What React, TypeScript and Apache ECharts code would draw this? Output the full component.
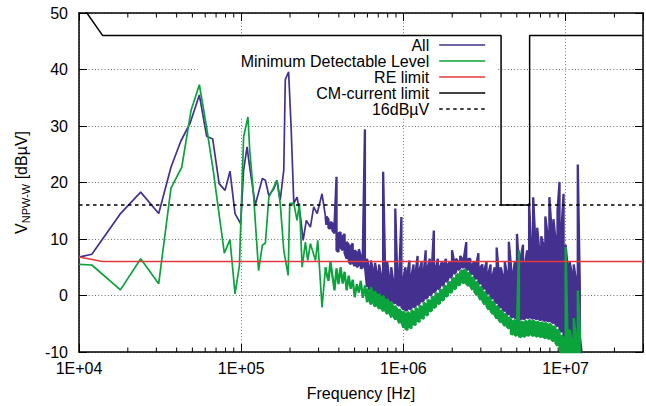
import React, { useEffect, useRef } from "react";
import * as echarts from "echarts";

const FONT = '"Liberation Sans", Arial, Helvetica, sans-serif';

// Colours of the traces
const C_ALL = "#43308f";
const C_MDL = "#0aa33c";
const C_RE = "#e3383f";
const C_CM = "#000000";

// Low-frequency part of the "All" trace (Hz, dBµV)
const ALL_LOW_FREQ = [
  1.0e4, 1.2e4, 1.79e4, 2.4e4, 3.1e4, 3.69e4, 4.24e4, 4.84e4, 5.52e4, 6.12e4,
  6.67e4, 7.31e4, 7.95e4, 8.53e4, 9.16e4, 9.93e4, 1.035e5, 1.087e5, 1.12e5, 1.22e5,
  1.35e5, 1.41e5, 1.48e5, 1.59e5, 1.66e5, 1.74e5, 1.83e5, 1.87e5, 1.96e5, 2.03e5,
  2.11e5, 2.21e5, 2.32e5, 2.41e5, 2.52e5, 2.67e5, 2.8e5, 2.94e5, 3.15e5, 3.31e5,
];
const ALL_LOW_DB = [
  6.8, 7.3, 14.4, 18.3, 14.5, 22.7, 27.3, 30.5, 35.5, 28.2,
  27.7, 19.8, 18.6, 22.0, 14.5, 12.7, 22.2, 26.3, 23.4, 16.0,
  20.7, 20.4, 17.7, 18.9, 20.4, 16.9, 22.2, 38.2, 39.6, 29.9,
  16.3, 17.4, 13.9, 9.75, 13.3, 12.1, 15.7, 14.5, 18.0, 13.9,
];

// Low-frequency part of the minimum detectable level (Hz, dBµV)
const MDL_LOW_FREQ = [
  1.0e4, 1.2e4, 1.8e4, 2.4e4, 3.1e4, 3.69e4, 4.3e4, 4.91e4, 5.52e4, 6.1e4,
  6.73e4, 7.87e4, 8.53e4, 9.16e4, 9.75e4, 1.035e5, 1.1e5, 1.129e5, 1.19e5, 1.28e5,
  1.35e5, 1.41e5, 1.48e5, 1.573e5, 1.66e5, 1.74e5, 1.83e5, 1.947e5, 1.992e5, 2.11e5,
  2.21e5, 2.286e5, 2.375e5, 2.489e5, 2.572e5, 2.67e5, 2.87e5, 2.965e5, 3.15e5, 3.31e5,
];
const MDL_LOW_DB = [
  5.5, 5.4, 1.0, 6.5, 2.1, 19.0, 22.7, 32.8, 37.3, 30.0,
  22.0, 7.5, 9.9, 0.3, 5.3, 28.1, 31.6, 25.7, 18.0, 4.4,
  8.9, 9.3, 17.4, 18.9, 20.4, 16.3, 8.0, 3.55, 16.3, 16.3,
  13.3, 16.3, 5.0, 9.45, 6.2, 9.2, 6.2, 9.75, -2.1, 5.0,
];

// Dense sweep above 330 kHz (kHz); each bin keeps its min and max reading
const SWEEP_KHZ = [
  335, 345, 355, 365, 376, 387, 398, 410, 422, 434,
  447, 460, 473, 487, 501, 516, 531, 546, 562, 579,
  596, 613, 631, 649, 668, 688, 708, 729, 750, 772,
  794, 818, 841, 866, 891, 917, 944, 972,
  1000, 1029, 1059, 1090, 1122, 1155, 1189, 1223, 1259, 1296,
  1334, 1372, 1413, 1454, 1496, 1540, 1585, 1631, 1679, 1728,
  1778, 1830, 1884, 1939, 1995, 2054, 2113, 2175, 2239, 2304,
  2371, 2441, 2512, 2585, 2661, 2738, 2818, 2901, 2985, 3073,
  3162, 3255, 3350, 3447, 3548, 3652, 3758, 3868, 3981, 4097,
  4217, 4340, 4467, 4597, 4732, 4870, 5012, 5158, 5309, 5464,
  5623, 5788, 5957, 6131, 6310, 6494, 6683, 6879, 7079, 7286,
  7499, 7718, 7943, 8175, 8414, 8660, 8913, 9173, 9441, 9716,
  10000, 10292, 10593, 10902, 11220, 11548, 11885, 12232, 12589,
];
const ALL_SWEEP_LO = [
  12.5, 12.0, 11.8, 11.5, 11.0, 8.0, 7.7, 8.5, 8.0, 7.5,
  6.5, 6.0, 5.5, 5.8, 5.2, 5.0, 5.4, 4.8, 5.0, 5.2,
  1.5, 1.2, 1.0, 0.8, 0.6, 0.4, 0.2, 0.0, -0.3, -0.5,
  -0.5, -0.8, -1.0, -1.2, -1.4, -1.6, -1.8, -2.0,
  -2.5, -2.7, -2.5, -2.4, -2.3, -2.1, -1.9, -1.7, -1.4, -1.1,
  -0.9, -0.6, -0.3, 0.0, 0.3, 0.5, 0.9, 1.1, 1.4,
  1.7, 2.0, 2.4, 2.8, 3.1, 3.5, 3.8, 4.2, 4.5, 4.8,
  5.0, 5.0, 4.8, 4.5, 4.1, 3.7,
  3.3, 2.9, 2.5, 2.0, 1.5, 1.1, 0.7, 0.2, -0.2, -0.6,
  -1.0, -1.4, -1.8, -2.2, -2.5, -2.8, -3.1, -3.4,
  -3.7, -3.9, -4.0, -4.1, -4.2, -4.2, -4.2, -4.1, -4.0, -3.9,
  -4.0, -4.1, -4.1, -4.2, -4.3, -4.3, -4.4, -4.5, -4.5, -4.6,
  -4.7, -4.9, -5.1, -5.5, -5.9, -6.5, -7.0,
  -7.5, -8.0, -8.0, -8.0, -7.5, -7.5, -7.0, -7.0, -10.5,
];
const ALL_SWEEP_HI = [
  14.0, 13.5, 13.0, 12.8, 12.6, 21.0, 11.0, 11.2, 10.5, 10.9,
  9.5, 9.0, 8.7, 9.2, 8.0, 7.6, 8.2, 7.0, 7.5, 29.4,
  6.5, 5.0, 6.2, 4.5, 5.8, 4.0, 5.5, 3.5, 21.9, 4.0,
  6.0, 3.0, 5.0, 2.5, 15.4, 3.0, 4.5, 13.9,
  3.0, 5.0, 4.0, 6.2, 3.5, 5.5, 4.0, 7.0, 4.5, 6.0,
  4.0, 8.0, 5.0, 6.5, 4.5, 11.5, 5.0, 6.5, 5.0,
  6.0, 5.5, 6.5, 5.5, 6.0, 8.0, 6.0, 6.5, 6.0, 7.0,
  6.5, 7.0, 9.45, 6.5, 6.5, 5.5,
  6.0, 5.5, 7.5, 5.0, 5.5, 4.5, 6.0, 4.0, 5.5, 3.5,
  5.0, 8.5, 4.0, 5.0, 3.5, 6.0, 4.0, 9.5,
  5.5, 4.0, 6.0, 10.9, 5.0, 7.0, 9.0, 5.5, 8.0, 16.3,
  9.0, 17.4, 10.0, 12.0, 8.0, 10.5, 9.0, 14.0, 11.0, 17.4,
  12.0, 13.5, 10.0, 15.0, 20.1, 12.0, 18.0,
  9.0, 5.0, 6.0, 4.0, 5.5, 3.0, 23.2, 2.0, -10.5,
];
const MDL_SWEEP_LO = [
  4.0, 2.6, 6.0, 3.5, 0.9, 4.8, 2.0, 5.0, 2.1, 4.2,
  0.9, 3.5, 1.2, 2.8, -0.3, 2.0, 0.5, 2.6, -0.4, 1.8,
  -1.2, -0.8, -1.6, -1.2, -2.0, -1.7, -2.4, -2.2, -2.8, -2.6,
  -3.3, -3.0, -3.9, -3.6, -4.3, -4.1, -4.9, -4.7,
  -5.7, -5.9, -6.1, -5.6, -5.8, -5.1, -5.2, -4.5, -4.7, -4.0,
  -4.1, -3.4, -3.5, -2.8, -2.7, -2.2, -2.0, -1.5, -1.4,
  -0.9, -0.7, -0.2, 0.0, 0.5, 0.6, 1.1, 1.3, 1.8, 1.9,
  2.3, 2.2, 2.1, 1.7, 1.6, 1.0,
  0.7, 0.1, -0.1, -0.8, -1.0, -1.6, -1.9, -2.5, -2.7, -3.3,
  -3.5, -4.1, -4.3, -4.8, -4.9, -5.4, -5.5, -5.9,
  -6.8, -6.9, -7.1, -7.0, -7.2, -7.4, -7.2, -7.3, -7.0, -7.1,
  -6.9, -7.2, -7.1, -7.3, -7.2, -7.4, -7.3, -7.6, -7.5, -7.7,
  -7.8, -8.1, -8.4, -8.9, -9.4, -10.5, -10.5,
  -10.5, -10.5, -10.5, -10.5, -10.5, -10.5, -10.5, -10.5, -10.5,
];
const MDL_SWEEP_HI = [
  4.0, 2.6, 6.0, 3.5, 0.9, 4.8, 2.0, 5.0, 2.1, 4.2,
  0.9, 3.5, 1.2, 2.8, -0.3, 2.0, 0.5, 2.6, -0.4, 1.8,
  1.2, 0.6, 1.5, 0.2, 0.8, -0.2, 0.3, -0.6, 0.0, -1.0,
  -0.6, -1.4, -1.2, -2.0, -1.8, -2.5, -2.4, -3.0,
  -2.8, -3.3, -2.9, -3.2, -2.6, -2.9, -2.2, -2.5, -1.8, -2.0,
  -1.3, -1.5, -0.8, -0.9, -0.2, -0.3, 0.4, 0.3, 1.0,
  1.0, 1.6, 1.7, 2.3, 2.4, 3.0, 3.1, 3.6, 3.8, 4.2,
  4.5, 4.6, 4.3, 4.1, 3.6, 3.3,
  2.7, 2.5, 1.9, 1.6, 1.0, 0.7, 0.1, -0.2, -0.6, -1.0,
  -1.4, -1.8, -2.2, -2.6, -2.9, -3.2, -3.5, -3.8,
  -4.2, -4.5, -4.4, -4.7, 8.0, -4.6, -4.8, -4.5, -4.6, -4.3,
  -4.6, -4.4, -4.7, -4.6, -4.9, -4.7, -5.0, -4.8, -5.1, -5.0,
  -5.3, -5.4, -5.7, -6.0, -6.4, -7.0, -7.6,
  8.6, -7.5, -6.0, -8.0, -4.0, -7.0, 0.9, -6.0, -10.5,
];

// Limit lines (Hz, dBµV)
const RE_LIMIT_FREQ = [1e4, 1.4e4, 3e7];
const RE_LIMIT_DB = [6.8, 6, 6];
const CM_LIMIT_FREQ = [1e4, 1.4e4, 4e6, 4e6, 6e6, 6e6, 3e7];
const CM_LIMIT_DB = [52, 46, 46, 16, 16, 46, 46];
const REF_LEVEL_FREQ = [1e4, 3e7];
const REF_LEVEL_DB = [16, 16];

// Axis ranges and log-axis minor ticks
const X_MIN = 1e4;
const X_MAX = 3e7;
const Y_MIN = -10;
const Y_MAX = 50;
const Y_STEP = 10;
const MINOR_TICKS = [
  2e4, 3e4, 4e4, 5e4, 6e4, 7e4, 8e4, 9e4,
  2e5, 3e5, 4e5, 5e5, 6e5, 7e5, 8e5, 9e5,
  2e6, 3e6, 4e6, 5e6, 6e6, 7e6, 8e6, 9e6,
  2e7,
];

const LEGEND_NAMES = ["All", "Minimum Detectable Level", "RE limit", "CM-current limit", "16dBµV"];

function pairs(freq: number[], db: number[]): number[][] {
  return freq.map((f, i) => [f, db[i]]);
}

// Trace each sweep bin as a vertical min-max stroke, snaking from one bin to the next
function envelope(khz: number[], lo: number[], hi: number[]): number[][] {
  const out: number[][] = [];
  khz.forEach((f, i) => {
    const hz = f * 1000;
    if (i % 2 === 0) out.push([hz, lo[i]], [hz, hi[i]]);
    else out.push([hz, hi[i]], [hz, lo[i]]);
  });
  return out;
}

function decadeLabel(v: number): string {
  const e = Math.log10(v);
  const r = Math.round(e);
  if (Math.abs(e - r) > 1e-6) return "";
  return "1E+" + String(r).padStart(2, "0");
}

const ALL_LOW = pairs(ALL_LOW_FREQ, ALL_LOW_DB);
const MDL_LOW = pairs(MDL_LOW_FREQ, MDL_LOW_DB);
// the dense part starts from the last low-frequency reading so the trace stays joined
const ALL_DENSE = [ALL_LOW[ALL_LOW.length - 1]].concat(envelope(SWEEP_KHZ, ALL_SWEEP_LO, ALL_SWEEP_HI));
const MDL_DENSE = [MDL_LOW[MDL_LOW.length - 1]].concat(envelope(SWEEP_KHZ, MDL_SWEEP_LO, MDL_SWEEP_HI));

function trace(name: string, data: number[][], color: string, width: number, type: any = "solid") {
  return {
    name,
    type: "line",
    data,
    symbol: "none",
    lineStyle: { color, width, type },
    itemStyle: { color },
  };
}

export default function App() {
  const ref = useRef<HTMLDivElement>(null);

  useEffect(() => {
    if (!ref.current) return;
    const chart = echarts.init(ref.current, undefined, { renderer: "svg" });

    const axisLine = { show: true, onZero: false, lineStyle: { color: "#000", width: 1.5 } };
    const tick = { show: true, inside: true, length: 8, lineStyle: { color: "#000", width: 1 } };
    const grid = { show: true, lineStyle: { color: "#777", width: 1, type: [1, 2.2] } };

    const option: any = {
      animation: false,
      backgroundColor: "#fff",
      textStyle: { fontFamily: FONT },
      grid: { left: 79, right: 3, top: 13, bottom: 54 },
      legend: {
        data: LEGEND_NAMES,
        orient: "vertical",
        align: "right",
        right: 160,
        top: 37,
        padding: 0,
        itemWidth: 46,
        itemHeight: 14,
        itemGap: 0,
        selectedMode: false,
        itemStyle: { opacity: 0 },
        lineStyle: { width: 1.6 },
        textStyle: { fontSize: 16, color: "#000", fontFamily: FONT, lineHeight: 16, padding: [0, 5, 0, 0] },
      },
      xAxis: [
        {
          type: "log",
          logBase: 10,
          min: X_MIN,
          max: X_MAX,
          position: "bottom",
          axisLine,
          axisTick: tick,
          axisLabel: { formatter: decadeLabel, color: "#000", fontSize: 16, margin: 8, fontFamily: FONT },
          splitLine: grid,
          name: "Frequency [Hz]",
          nameLocation: "middle",
          nameGap: 33,
          nameTextStyle: { fontSize: 16, color: "#000", fontFamily: FONT },
        },
        {
          type: "log",
          logBase: 10,
          min: X_MIN,
          max: X_MAX,
          position: "top",
          axisLine,
          axisTick: tick,
          axisLabel: { show: false },
          splitLine: { show: false },
        },
      ],
      yAxis: [
        {
          type: "value",
          min: Y_MIN,
          max: Y_MAX,
          interval: Y_STEP,
          position: "left",
          axisLine,
          axisTick: tick,
          axisLabel: { color: "#000", fontSize: 16, margin: 11, fontFamily: FONT },
          splitLine: grid,
        },
        {
          type: "value",
          min: Y_MIN,
          max: Y_MAX,
          interval: Y_STEP,
          position: "right",
          axisLine,
          axisTick: tick,
          axisLabel: { show: false },
          splitLine: { show: false },
        },
      ],
      graphic: [
        {
          type: "rect",
          z: 1,
          silent: true,
          shape: { x: 198, y: 37, width: 298, height: 80 },
          style: { fill: "#fff" },
        },
        {
          type: "text",
          x: 21,
          y: 182.5,
          rotation: Math.PI / 2,
          silent: true,
          style: {
            text: "{v|V}{s|NPW-W}{v| [dBµV]}",
            align: "center",
            verticalAlign: "middle",
            fill: "#000",
            rich: {
              v: { fontSize: 16, lineHeight: 20, fontFamily: FONT, fill: "#000" },
              s: { fontSize: 11, lineHeight: 12, verticalAlign: "bottom", fontFamily: FONT, fill: "#000" },
            },
          },
        },
      ],
      series: [
        trace("All", ALL_LOW, C_ALL, 1.7),
        trace("All", ALL_DENSE, C_ALL, 2.3),
        trace("Minimum Detectable Level", MDL_LOW, C_MDL, 1.7),
        trace("Minimum Detectable Level", MDL_DENSE, C_MDL, 2.3),
        trace("RE limit", pairs(RE_LIMIT_FREQ, RE_LIMIT_DB), C_RE, 1.5),
        trace("CM-current limit", pairs(CM_LIMIT_FREQ, CM_LIMIT_DB), C_CM, 1.5),
        trace("16dBµV", pairs(REF_LEVEL_FREQ, REF_LEVEL_DB), "#000", 1.5, [3.5, 3.5]),
        {
          name: "minor-ticks",
          type: "custom",
          silent: true,
          data: MINOR_TICKS.map((f) => [f, 0]),
          encode: { x: 0, y: 1 },
          renderItem: (_p: any, api: any) => {
            const f = api.value(0);
            const b = api.coord([f, Y_MIN]);
            const t = api.coord([f, Y_MAX]);
            const st = { stroke: "#000", lineWidth: 1 };
            return {
              type: "group",
              children: [
                { type: "line", shape: { x1: b[0], y1: b[1], x2: b[0], y2: b[1] - 4.5 }, style: st },
                { type: "line", shape: { x1: t[0], y1: t[1], x2: t[0], y2: t[1] + 4.5 }, style: st },
              ],
            };
          },
        },
      ],
    };

    chart.setOption(option);
    return () => chart.dispose();
  }, []);

  return <div ref={ref} style={{ position: "absolute", left: 0, top: 0, width: 646, height: 406 }} />;
}
